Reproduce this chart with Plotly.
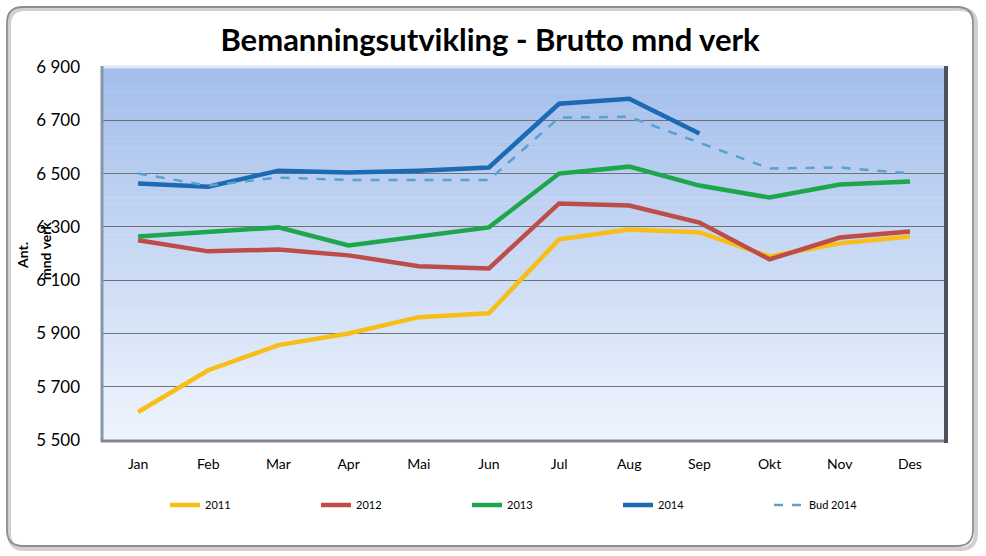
import plotly.graph_objects as go

months = ["Jan", "Feb", "Mar", "Apr", "Mai", "Jun", "Jul", "Aug", "Sep", "Okt", "Nov", "Des"]
y2011 = [5605, 5762, 5856, 5900, 5961, 5976, 6253, 6290, 6279, 6189, 6238, 6264]
y2012 = [6250, 6208, 6215, 6193, 6152, 6144, 6388, 6380, 6316, 6178, 6260, 6283]
y2013 = [6264, 6279, 6298, 6230, 6264, 6298, 6500, 6526, 6455, 6410, 6459, 6470]
y2014 = [6463, 6451, 6511, 6504, 6511, 6523, 6762, 6781, 6650]
bud2014 = [6500, 6455, 6485, 6476, 6476, 6476, 6710, 6713, 6616, 6519, 6523, 6500]
y_ticks = [5500, 5700, 5900, 6100, 6300, 6500, 6700, 6900]

W, H = 986, 556
L, R, T, B = 103, 945, 67, 440
PW, PH = R - L, B - T

def px(x):
    return (x - L) / PW

def py(y):
    return (B - y) / PH

FONT = "Lato"

fig = go.Figure()
series = [
    ("2011", y2011, "#F7BE17", "solid", 4.5),
    ("2012", y2012, "#BE4C49", "solid", 4.5),
    ("2013", y2013, "#1DA64B", "solid", 4.5),
    ("2014", y2014, "#1B6AB4", "solid", 4.5),
    ("Bud 2014", bud2014, "#5BA0CF", "dash", 2.5),
]
for name, vals, col, dash, w in series:
    fig.add_trace(go.Scatter(
        x=months[:len(vals)], y=vals, name=name, mode="lines",
        line=dict(color=col, width=w, dash=dash),
    ))

shapes = []
# gradient background of plot area
top = (0xA3, 0xBE, 0xEC)
bot = (0xEE, 0xF4, 0xFC)
N = 60
for i in range(N):
    t = i / (N - 1)
    c = tuple(round(top[k] + (bot[k] - top[k]) * t) for k in range(3))
    shapes.append(dict(type="rect", xref="paper", yref="paper", x0=0, x1=1,
                       y0=1 - (i + 1) / N, y1=1 - i / N + 0.001,
                       fillcolor="rgb(%d,%d,%d)" % c, line=dict(width=0), layer="below"))
# bevel frame of plot area
shapes += [
    dict(type="line", xref="paper", yref="paper", x0=0, x1=1, y0=1, y1=1,
         line=dict(color="#D9E6F8", width=3), layer="above"),
    dict(type="line", xref="paper", yref="paper", x0=px(L - 1), x1=px(L - 1), y0=py(B + 2), y1=py(T - 1),
         line=dict(color="#8996AA", width=3), layer="above"),
    dict(type="line", xref="paper", yref="paper", x0=px(L - 2), x1=px(R + 2), y0=py(B + 1), y1=py(B + 1),
         line=dict(color="#7F8794", width=3), layer="above"),
    dict(type="line", xref="paper", yref="paper", x0=px(R + 1), x1=px(R + 1), y0=py(B + 3), y1=py(T - 1),
         line=dict(color="#4C525C", width=4), layer="above"),
]

# outer rounded frame
def rounded(x0, y0, x1, y1, r):
    a, b_, c, d = px(x0), px(x1), py(y0), py(y1)
    rx, ry = r / PW, r / PH
    return (f"M{a + rx},{c} L{b_ - rx},{c} Q{b_},{c} {b_},{c - ry} "
            f"L{b_},{d + ry} Q{b_},{d} {b_ - rx},{d} L{a + rx},{d} "
            f"Q{a},{d} {a},{d + ry} L{a},{c - ry} Q{a},{c} {a + rx},{c} Z")

shapes.append(dict(type="path", xref="paper", yref="paper", path=rounded(9, 9, 976, 549, 16),
                   line=dict(color="rgba(120,120,120,0.35)", width=4), layer="below"))
shapes.append(dict(type="path", xref="paper", yref="paper", path=rounded(7, 7, 973, 546, 16),
                   line=dict(color="#8E8E8E", width=1.8), layer="below"))

annotations = [
    dict(text="<b>Ant.</b>", textangle=-90, xref="paper", yref="paper",
         x=px(22), y=py(256), showarrow=False, font=dict(family=FONT, size=14, color="#000"),
         xanchor="center", yanchor="middle"),
    dict(text="<b>mnd verk</b>", textangle=-90, xref="paper", yref="paper",
         x=px(45), y=py(251), showarrow=False, font=dict(family=FONT, size=14, color="#000"),
         xanchor="center", yanchor="middle"),
]

fig.update_layout(
    width=W, height=H,
    margin=dict(l=L, r=W - R, t=T, b=H - B),
    paper_bgcolor="white", plot_bgcolor="rgba(0,0,0,0)",
    separators=", ",
    title=dict(text="<b>Bemanningsutvikling - Brutto mnd verk</b>", x=0.497, xanchor="center",
               y=1 - 40 / H, yanchor="middle", yref="container",
               font=dict(family=FONT, size=31, color="#000")),
    font=dict(family=FONT, color="#000"),
    xaxis=dict(range=[-0.5, 11.5], showgrid=False, zeroline=False, showline=False, ticks="",
               tickfont=dict(family=FONT, size=14, color="#000"), ticklabelstandoff=14),
    yaxis=dict(range=[5500, 6900], tickvals=y_ticks, tickformat=",.0f", showgrid=True,
               gridcolor="#6E7378", gridwidth=1, zeroline=False, showline=False, ticks="",
               tickfont=dict(family=FONT, size=17, color="#000"), ticklabelstandoff=22),
    legend=dict(orientation="h", x=px(165), xanchor="left", y=py(505), yanchor="middle",
                entrywidth=106, entrywidthmode="pixels", font=dict(family=FONT, size=11, color="#000"),
                bgcolor="rgba(0,0,0,0)", tracegroupgap=0),
    shapes=shapes, annotations=annotations,
    showlegend=True,
)

fig.write_html("out.html", config={"displayModeBar": False},
               post_script="document.body.style.margin='0';")
